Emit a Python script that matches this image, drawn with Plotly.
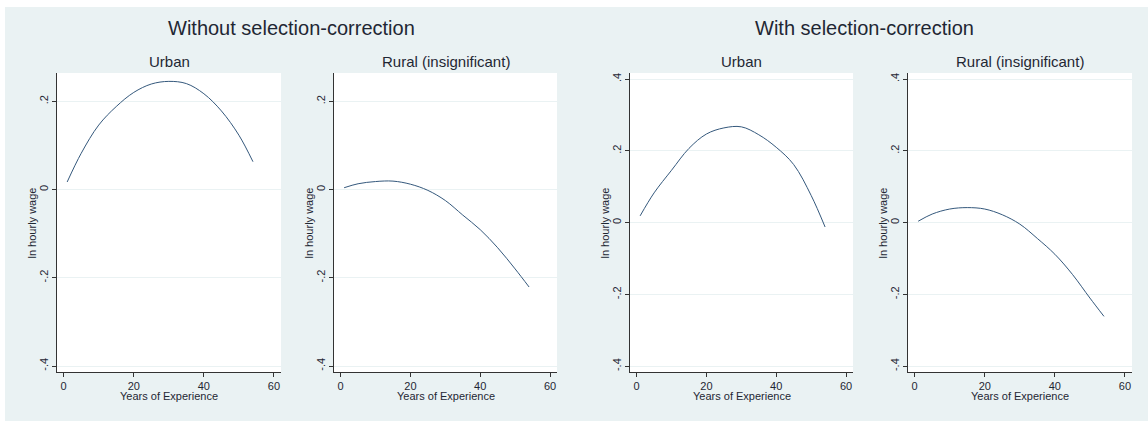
import plotly.graph_objects as go

# Returns to experience: predicted ln hourly wage by years of experience
experience = [1, 5, 10, 15, 20, 25, 30, 35, 40, 45, 50, 54]

urban_plain = [0.017, 0.082, 0.146, 0.188, 0.220, 0.239, 0.245, 0.240, 0.217, 0.178, 0.123, 0.063]
rural_plain = [0.004, 0.013, 0.018, 0.019, 0.012, -0.002, -0.025, -0.058, -0.091, -0.132, -0.180, -0.221]
urban_corr = [0.019, 0.083, 0.146, 0.207, 0.247, 0.264, 0.267, 0.245, 0.210, 0.162, 0.076, -0.012]
rural_corr = [0.004, 0.024, 0.038, 0.042, 0.038, 0.022, -0.004, -0.044, -0.088, -0.144, -0.210, -0.261]

group_titles = ["Without selection-correction", "With selection-correction"]
panel_titles = ["Urban", "Rural (insignificant)", "Urban", "Rural (insignificant)"]
x_title = "Years of Experience"
y_title = "ln hourly wage"

x_ticks = [0, 20, 40, 60]
y_ticks_left = [-0.4, -0.2, 0, 0.2]
y_labels_left = ["-.4", "-.2", "0", ".2"]
y_ticks_right = [-0.4, -0.2, 0, 0.2, 0.4]
y_labels_right = ["-.4", "-.2", "0", ".2", ".4"]

W, H = 1148, 421
BG = "#EAF2F3"
INK = "#1f2733"
LINE = "#34587c"
FONT = "Liberation Sans, Arial, sans-serif"

# pixel boxes of the four plot regions (left, right)
boxes = [(57, 281), (334, 557), (630, 853), (908, 1132)]
top_px, bot_px = 73, 372


def px_x(p):
    return p / W


def px_y(p):
    return 1 - p / H


series = [urban_plain, rural_plain, urban_corr, rural_corr]
fig = go.Figure()
layout = dict(
    width=W, height=H,
    margin=dict(l=0, r=0, t=0, b=0),
    paper_bgcolor=BG, plot_bgcolor="white",
    showlegend=False,
    font=dict(family=FONT, color=INK, size=11),
)

annotations = []
for i, (vals, (l, r)) in enumerate(zip(series, boxes)):
    n = "" if i == 0 else str(i + 1)
    fig.add_trace(go.Scatter(
        x=experience, y=vals, mode="lines",
        line=dict(color=LINE, width=1, shape="spline", smoothing=1.0),
        xaxis="x" + n, yaxis="y" + n, hoverinfo="skip",
    ))
    if i < 2:
        yr, tv, tt = [-0.4136, 0.264], y_ticks_left, y_labels_left
    else:
        yr, tv, tt = [-0.416, 0.417], y_ticks_right, y_labels_right
    layout["xaxis" + n] = dict(
        domain=[px_x(l), px_x(r)], anchor="y" + n, range=[-1.9, 62],
        tickvals=x_ticks, ticks="outside", ticklen=4, tickwidth=1,
        tickcolor="#333333", showline=True, linecolor="#333333", linewidth=1,
        showgrid=False, zeroline=False, tickfont=dict(size=11, color=INK),
        fixedrange=True,
    )
    layout["yaxis" + n] = dict(
        domain=[px_y(bot_px), px_y(top_px)], anchor="x" + n, range=yr,
        tickvals=tv, ticktext=tt, tickangle=-90, ticks="outside", ticklen=4,
        tickwidth=1, tickcolor="#333333", showline=True, linecolor="#333333",
        linewidth=1, showgrid=True, gridcolor=BG, gridwidth=1, zeroline=False,
        tickfont=dict(size=11, color=INK), fixedrange=True,
    )
    cx = (l + r) / 2
    annotations.append(dict(
        text=panel_titles[i], x=px_x(cx), y=px_y(61), xref="paper", yref="paper",
        xanchor="center", yanchor="middle", showarrow=False,
        font=dict(size=15, color=INK),
    ))
    annotations.append(dict(
        text=x_title, x=px_x(cx), y=px_y(396), xref="paper", yref="paper",
        xanchor="center", yanchor="middle", showarrow=False,
        font=dict(size=11, color=INK),
    ))
    annotations.append(dict(
        text=y_title, x=px_x(l - 25.5), y=px_y(223), xref="paper", yref="paper",
        xanchor="center", yanchor="middle", showarrow=False, textangle=-90,
        font=dict(size=11, color=INK),
    ))

for t, cx in zip(group_titles, [291, 864]):
    annotations.append(dict(
        text=t, x=px_x(cx), y=px_y(28), xref="paper", yref="paper",
        xanchor="center", yanchor="middle", showarrow=False,
        font=dict(size=20, color=INK),
    ))

layout["annotations"] = annotations
# thin white border along the top and left edges of the page
layout["shapes"] = [
    dict(type="rect", xref="paper", yref="paper", x0=0, x1=px_x(5), y0=0, y1=1,
         fillcolor="white", line=dict(width=0), layer="above"),
    dict(type="rect", xref="paper", yref="paper", x0=0, x1=1, y0=px_y(7), y1=1,
         fillcolor="white", line=dict(width=0), layer="above"),
]

fig.update_layout(**layout)
fig.write_html("out.html", config={"displayModeBar": False})
